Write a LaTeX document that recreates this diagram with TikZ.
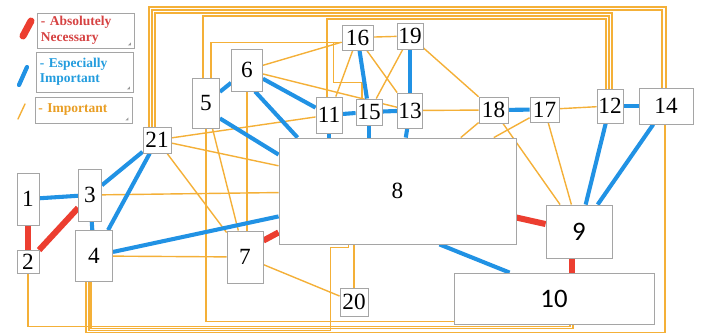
\documentclass[tikz,border=0pt]{standalone}
\usepackage{fontspec}
\setmainfont{Liberation Serif}
\newfontfamily\numsans{Carlito}
\usetikzlibrary{calc, backgrounds}

\definecolor{necred}{RGB}{236,62,48}
\definecolor{espblue}{RGB}{33,146,228}
\definecolor{imporange}{RGB}{244,176,56}
\definecolor{boxgray}{RGB}{165,165,165}
\definecolor{txtred}{RGB}{214,66,66}
\definecolor{txtblue}{RGB}{36,157,222}
\definecolor{txtorange}{RGB}{233,158,36}

\begin{document}
\begin{tikzpicture}[
  x=0.025cm, y=-0.025cm,
  num/.style={draw=boxgray, line width=0.6pt, fill=white, inner sep=0pt,
    font=\fontsize{16.5}{16.5}\selectfont},
  numsf/.style={num, font=\numsans\fontsize{19}{19}\selectfont},
  sz/.style 2 args={minimum width=#1*0.025cm, minimum height=#2*0.025cm},
  legend/.style={draw=boxgray, line width=0.6pt, fill=white, align=left,
    inner xsep=2.5pt, inner ysep=1pt, text width=2.25cm,
    font=\bfseries\fontsize{9.6}{11}\selectfont},
  grip/.style={fill=black!40},
  nec/.style={necred, line width=4.3pt},
  esp/.style={espblue, line width=2.9pt},
  imp/.style={imporange, line width=1pt},
]
\useasboundingbox (0,0) rectangle (702,335);

%% ---- Legend ----
\node[legend, sz={96}{35}, text=txtred] (lgnec) at (86,30.5)
  {- Absolutely\\Necessary};
\node[legend, sz={97}{40}, text=txtblue] (lgesp) at (85,72)
  {- Especially\\Important};
\node[legend, sz={95}{26}, text=txtorange] (lgimp) at (83.5,110)
  {- Important};
\foreach \g in {lgnec, lgesp, lgimp}
  \fill[grip] ($(\g.south east)+(-7,-3)$) -- ++(3,0) -- ++(0,-3) -- cycle;
\draw[necred, line width=5pt, line cap=round] (23,36) -- (31,21);
\draw[espblue, line width=3pt, line cap=round] (19,85) -- (27,67);
\draw[imporange, line width=1pt, line cap=round] (18,119) -- (25,104);

%% ---- Factors ----
\node[num, sz={22}{52}]  (n1)  at (28,199)   {1};
\node[num, sz={22}{23}]  (n2)  at (28,262)   {2};
\node[num, sz={23}{52}]  (n3)  at (90,195)   {3};
\node[num, sz={37}{51}]  (n4)  at (94,256)   {4};
\node[num, sz={27}{50}]  (n5)  at (206,103)  {5};
\node[num, sz={31}{42}]  (n6)  at (247,70)   {6};
\node[num, sz={36}{52}]  (n7)  at (245,257)  {7};
\node[num, sz={237}{106}] (n8) at (397.5,191) {8};
\node[numsf, sz={66}{53}]  (n9)  at (579,231.5) {9};
\node[numsf, sz={200}{51}] (n10) at (554,298.5) {10};
\node[num, sz={26}{36}]  (n11) at (329,115)  {11};
\node[num, sz={26}{34}]  (n12) at (610,106)  {12};
\node[num, sz={25}{35}]  (n13) at (410,110.5) {13};
\node[num, sz={54}{36}]  (n14) at (666,106)  {14};
\node[num, sz={26}{26}]  (n15) at (369,112)  {15};
\node[num, sz={31}{25}]  (n16) at (357.5,37.5) {16};
\node[num, sz={29}{25}]  (n17) at (544.5,109.5) {17};
\node[num, sz={29}{26}]  (n18) at (493.5,110) {18};
\node[num, sz={26}{26}]  (n19) at (410,36)   {19};
\node[num, sz={28}{28}]  (n20) at (354,302)  {20};
\node[num, sz={28}{26}]  (n21) at (157,140)  {21};

\coordinate (rail1) at (0,7);
\coordinate (rail2) at (0,10);
\coordinate (rail3) at (0,13);
\coordinate (rail4) at (0,16);
\coordinate (rail5) at (0,19);

\begin{pgfonlayer}{background}
%% ---- Important ----
\draw[imp] (n3) -- (n8);
\draw[imp] (n4) -- (n7);
\draw[imp] (n21) -- (n11);
\draw[imp] (n21) -- (n8);
\draw[imp] (n21) -- (n7);
\draw[imp] (n5) -- (n7);
\draw[imp] (n6.south) -- (n6.south |- n7.north);
\draw[imp] (n6) -- (n16);
\draw[imp] (n6) -- (n13);
\draw[imp] (n16) -- (n19);
\draw[imp] (n16) -- (n11);
\draw[imp] (n16) -- (n13);
\draw[imp] (n19) -- (n15);
\draw[imp] (n19) -- (n18);
\draw[imp] (n13) -- (n18);
\draw[imp] (n18) -- (n8);
\draw[imp] (n17) -- (n8);
\draw[imp] (n18) -- (n9);
\draw[imp] (n17) -- (n9);
\draw[imp] (n17) -- (n12);
\draw[imp] (n7) -- (n20);
\draw[imp] (n20.north) -- (n20.north |- n8.south);

% routed over the top
\draw[imp] ($(n21.north)+(-8,0)$) |- (n14.north |- rail1) -- (n14.north);
\draw[imp] ($(n21.north)+(-5,0)$) |- ($(n14.north |- rail2)+(-4,0)$)
  -- ($(n14.north)+(-4,0)$);
\draw[imp] ($(n21.north)+(-2,0)$) |- ($(n12.north |- rail3)+(2,0)$)
  -- ($(n12.north)+(2,0)$);
\draw[imp] ($(n5.north)+(-3,0)$) |- ($(n12.north |- rail4)+(-1,0)$)
  -- ($(n12.north)+(-1,0)$);
\draw[imp] ($(n11.north)+(-2,0)$) |- ($(n12.north |- rail5)+(-4,0)$)
  -- ($(n12.north)+(-4,0)$);
\draw[imp] ($(n5.north)+(5,0)$) |- ($(n16.west)+(0,5)$);
\draw[imp] ($(n16.west)+(-8,5)$) |- ($(n15.north)+(-7,-16)$)
  -- ($(n15.north)+(-7,0)$);

% routed along the bottom
\draw[imp] (n5.south) |- ($(n10.south west)+(0,-3)$);
\draw[imp] (n2.south) |- ($(n10.south)+(16,2)$) -- ($(n10.south)+(16,0)$);
\draw[imp] ($(n4.south)+(-3,0)$) |- ($(n10.south)+(19,4)$)
  -- ($(n10.south)+(19,0)$);
\draw[imp] ($(n4.south)+(-5,0)$) |- ($(n10.south west)+(-123,6)$)
  |- ($(n8.south)+(-49,3)$) -- ($(n8.south)+(-49,0)$);
\draw[imp] ($(n4.south)+(-8,0)$) |- ($(n14.south)+(-1,208)$)
  -- ($(n14.south)+(-1,0)$);

%% ---- Especially Important ----
\draw[esp] (n1) -- (n3);
\draw[esp] (n3) -- (n4);
\draw[esp] (n3) -- (n21);
\draw[esp] (n4) -- (n21);
\draw[esp] (n4) -- (n8);
\draw[esp] (n5) -- (n6);
\draw[esp] ($(n5.south east)+(0,-10)$) -- ($(n8.north west)+(0,17)$);
\draw[esp] (n6) -- (n11);
\draw[esp] ($(n6.south)+(8,0)$) -- ($(n8.north west)+(19,0)$);
\draw[esp] (n11) -- (n15);
\draw[esp] (n15) -- (n13);
\draw[esp] (n16) -- (n15);
\draw[esp] (n19) -- (n13);
\draw[esp] (n11.south) -- (n11.south |- n8.north);
\draw[esp] (n15.south) -- (n15.south |- n8.north);
\draw[esp] (n13) -- (n8);
\draw[esp] (n18) -- (n17);
\draw[esp] (n12) -- (n14);
\draw[esp] (n12) -- (n9);
\draw[esp] (n14) -- (n9);
\draw[esp] ($(n8.south)+(42,0)$) -- ($(n10.north west)+(56,0)$);

%% ---- Absolutely Necessary ----
\draw[nec] (n1) -- (n2);
\draw[nec] (n2) -- (n3);
\draw[nec] ($(n7.north east)+(0,10)$) -- ($(n8.south west)+(0,-12)$);
\draw[nec] (n8) -- (n9);
\draw[nec] ($(n9.south)+(-7,0)$) -- ($(n10.north)+(18,0)$);
\end{pgfonlayer}

\end{tikzpicture}
\end{document}
